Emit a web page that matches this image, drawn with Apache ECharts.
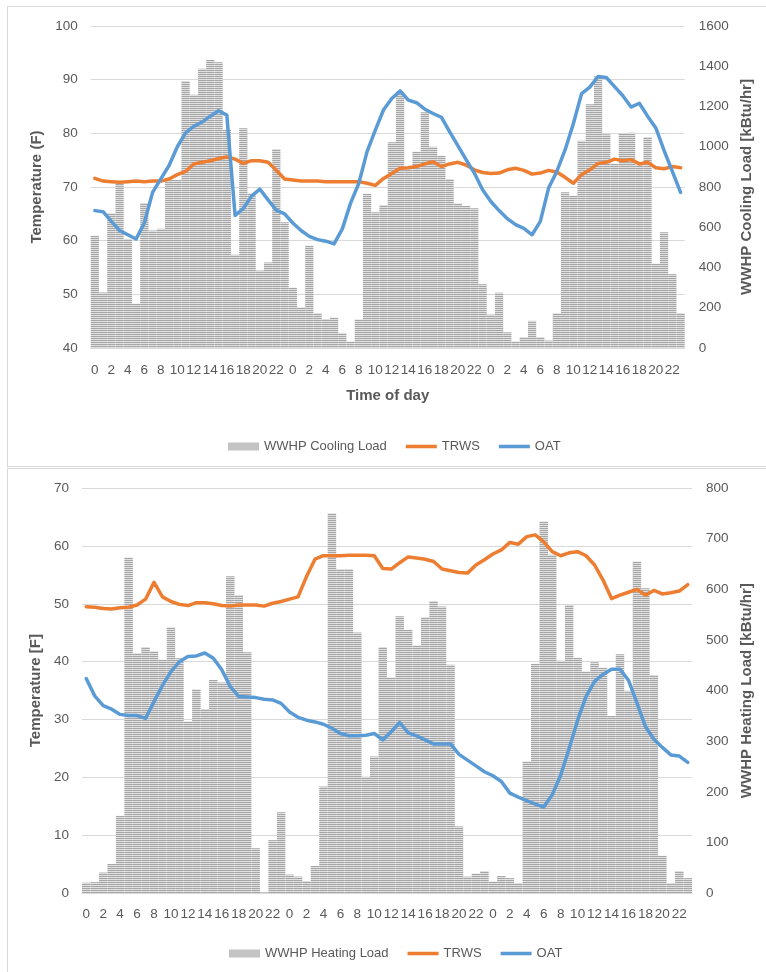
<!DOCTYPE html>
<html><head><meta charset="utf-8">
<script src="https://cdn.jsdelivr.net/npm/echarts@6/dist/echarts.min.js"></script>
<style>
html,body{margin:0;padding:0;background:#fff;width:766px;height:972px;overflow:hidden}
.box{position:absolute;border:1px solid #d9d9d9;box-sizing:border-box}
#chart{position:absolute;left:0;top:0;width:766px;height:972px}
</style></head><body>
<div class="box" style="left:7px;top:6px;width:780px;height:461px"></div>
<div class="box" style="left:7px;top:468px;width:780px;height:520px"></div>
<div id="chart"></div>
<script>
// hour-of-day tick labels (three consecutive days)
const hours = ['0','1','2','3','4','5','6','7','8','9','10','11','12','13','14','15','16','17','18','19','20','21','22','23'];
const categories = [...hours, ...hours, ...hours];

// Top chart: cooling
const coolLoad = [558,276,670,819,541,220,720,584,592,835,835,1327,1258,1387,1431,1420,1085,463,1092,768,385,425,989,625,300,202,508,173,144,151,75,32,142,766,675,711,1022,1276,900,975,1171,1000,955,840,718,705,694,317,166,275,78,32,54,135,54,37,173,774,756,1030,1211,1350,1062,915,1063,1070,910,1048,419,575,367,173];
const coolTRWS = [71.6,71.1,71.0,70.9,71.0,71.1,71.0,71.1,71.1,71.5,72.3,72.9,74.3,74.6,74.9,75.3,75.6,75.2,74.4,74.9,74.9,74.6,73.1,71.5,71.3,71.1,71.1,71.1,71.0,71.0,71.0,71.0,71.0,70.7,70.3,71.6,72.5,73.5,73.6,73.8,74.3,74.7,73.8,74.3,74.6,74.1,73.2,72.7,72.5,72.6,73.2,73.5,73.1,72.4,72.6,73.1,72.8,71.8,70.7,72.3,73.2,74.4,74.6,75.2,74.9,75.1,74.3,74.6,73.6,73.4,73.8,73.6];
const coolOAT = [65.6,65.4,63.6,61.9,61.1,60.3,63.3,69.0,71.5,74.0,77.5,80.1,81.3,82.1,83.2,84.2,83.4,64.7,66.0,68.3,69.6,67.6,65.7,65.0,63.3,61.9,60.8,60.2,59.9,59.4,62.2,67.0,70.7,76.6,80.6,84.4,86.5,87.9,86.2,85.7,84.5,83.7,83.0,80.3,77.7,75.1,72.6,69.5,67.3,65.6,64.1,63.0,62.3,61.1,63.6,69.8,72.9,76.9,81.8,87.4,88.6,90.6,90.4,88.7,87.0,84.9,85.6,83.2,81.0,76.8,72.9,69.0];

// Bottom chart: heating
const heatLoad = [21,22,41,58,153,663,474,486,478,461,525,464,339,403,364,421,416,626,589,476,89,2,105,160,37,33,24,54,211,750,640,640,515,230,270,486,426,547,520,489,545,577,566,451,132,33,39,44,23,34,30,20,260,453,734,668,459,569,465,438,456,445,350,472,400,655,602,431,74,20,44,30];
const heatTRWS = [49.5,49.4,49.2,49.1,49.3,49.4,49.8,50.8,53.7,51.2,50.4,49.9,49.7,50.2,50.2,50.0,49.7,49.6,49.8,49.8,49.8,49.6,50.1,50.4,50.8,51.2,54.7,57.7,58.3,58.3,58.3,58.4,58.4,58.4,58.3,56.1,56.0,57.1,58.1,57.9,57.7,57.3,56.0,55.7,55.4,55.3,56.7,57.6,58.6,59.3,60.6,60.3,61.6,61.9,60.7,59.0,58.3,58.8,59.0,58.3,56.7,54.1,50.9,51.5,52.0,52.5,51.5,52.3,51.7,51.9,52.2,53.3];
const heatOAT = [37.1,34.1,32.4,31.8,30.9,30.7,30.7,30.2,33.1,35.9,38.3,40.0,40.9,41.0,41.5,40.6,38.6,35.7,34.0,33.9,33.8,33.5,33.4,32.8,31.3,30.4,29.9,29.6,29.2,28.5,27.6,27.2,27.2,27.3,27.6,26.5,27.9,29.5,27.7,27.2,26.5,25.8,25.8,25.8,24.0,23.0,22.0,21.0,20.3,19.3,17.3,16.6,16.0,15.4,14.9,17.0,20.4,25.0,29.9,34.0,36.6,37.8,38.7,38.7,36.8,32.9,28.8,26.6,25.2,23.9,23.7,22.6];

const FONT = "'Liberation Sans', Arial, sans-serif";
const GRAY = '#595959';
const ORANGE = '#ED7D31', BLUE = '#5B9BD5';

// striped fill for the load bars
const pc = document.createElement('canvas'); pc.width = 4; pc.height = 2;
const pctx = pc.getContext('2d');
pctx.fillStyle = '#a6a6a6'; pctx.fillRect(0, 0, 4, 1);
pctx.fillStyle = '#e0e0e0'; pctx.fillRect(0, 1, 4, 1);
const barFill = { image: pc, repeat: 'repeat' };

const linePath = 'path://M0,0H35V4H0Z';
const labelStyle = { color: GRAY, fontSize: 13.5, fontFamily: FONT };
const titleStyle = { color: GRAY, fontSize: 15, fontWeight: 'bold', fontFamily: FONT };

function xAx(gi, name, margin) {
  const a = {
    gridIndex: gi, type: 'category', data: categories,
    axisTick: { show: false },
    axisLine: { lineStyle: { color: '#d9d9d9' } },
    axisLabel: Object.assign({ interval: 1, margin: margin }, labelStyle)
  };
  if (name) { a.name = name; a.nameLocation = 'middle'; a.nameGap = 40; a.nameTextStyle = titleStyle; }
  return a;
}
function yAx(gi, pos, min, max, step, name, gap, split) {
  return {
    gridIndex: gi, type: 'value', position: pos, min: min, max: max, interval: step,
    name: name, nameLocation: 'middle', nameRotate: 90, nameGap: gap, nameTextStyle: titleStyle,
    axisLine: { show: false }, axisTick: { show: false },
    axisLabel: Object.assign({ margin: pos === 'left' ? 13 : 14, formatter: v => String(v) }, labelStyle),
    splitLine: { show: split, lineStyle: { color: '#d9d9d9', width: 1 } }
  };
}
function lineS(name, xi, yi, data, color) {
  return { type: 'line', name: name, xAxisIndex: xi, yAxisIndex: yi, data: data,
    symbol: 'none', showSymbol: false, z: 3,
    lineStyle: { width: 3.5, color: color, cap: 'round', join: 'round' }, itemStyle: { color: color } };
}

const chart = echarts.init(document.getElementById('chart'), null, { renderer: 'canvas' });
chart.setOption({
  animation: false,
  textStyle: { fontFamily: FONT },
  grid: [
    { left: 90.7, top: 26, width: 594, height: 322 },
    { left: 82, top: 488, width: 610, height: 405.3 }
  ],
  xAxis: [xAx(0, 'Time of day', 15), xAx(1, null, 14)],
  yAxis: [
    yAx(0, 'left', 40, 100, 10, 'Temperature (F)', 39, true),
    yAx(0, 'right', 0, 1600, 200, 'WWHP Cooling Load [kBtu/hr]', 48, false),
    yAx(1, 'left', 0, 70, 10, 'Temperature [F]', 31, true),
    yAx(1, 'right', 0, 800, 100, 'WWHP Heating Load [kBtu/hr]', 46, false)
  ],
  legend: [
    { left: 223, top: 435, itemWidth: 31, itemHeight: 8, itemGap: 19,
      textStyle: { color: GRAY, fontSize: 13, fontFamily: FONT },
      data: [{ name: 'WWHP Cooling Load', icon: 'rect' }, { name: 'TRWS', icon: linePath }, { name: 'OAT', icon: linePath }] },
    { left: 224, top: 942, itemWidth: 31, itemHeight: 8, itemGap: 19,
      textStyle: { color: GRAY, fontSize: 13, fontFamily: FONT },
      data: [{ name: 'WWHP Heating Load', icon: 'rect' }, { name: 'TRWS', icon: linePath }, { name: 'OAT', icon: linePath }] }
  ],
  series: [
    { type: 'bar', name: 'WWHP Cooling Load', xAxisIndex: 0, yAxisIndex: 1, data: coolLoad,
      barCategoryGap: '0%', itemStyle: { color: barFill }, z: 2 },
    lineS('TRWS', 0, 0, coolTRWS, ORANGE),
    lineS('OAT', 0, 0, coolOAT, BLUE),
    { type: 'bar', name: 'WWHP Heating Load', xAxisIndex: 1, yAxisIndex: 3, data: heatLoad,
      barCategoryGap: '0%', itemStyle: { color: barFill }, z: 2 },
    lineS('TRWS', 1, 2, heatTRWS, ORANGE),
    lineS('OAT', 1, 2, heatOAT, BLUE)
  ]
});
</script></body></html>
